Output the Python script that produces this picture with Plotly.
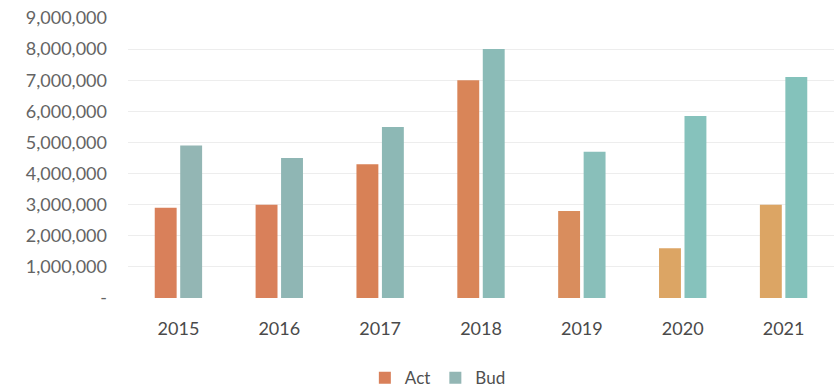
import plotly.graph_objects as go

years = ["2015", "2016", "2017", "2018", "2019", "2020", "2021"]
act = [2900000, 3000000, 4300000, 7000000, 2800000, 1600000, 3000000]
bud = [4900000, 4500000, 5500000, 8000000, 4700000, 5850000, 7100000]
y_ticks = [0, 1000000, 2000000, 3000000, 4000000, 5000000, 6000000, 7000000, 8000000, 9000000]
y_tick_text = ["-", "1,000,000", "2,000,000", "3,000,000", "4,000,000", "5,000,000",
               "6,000,000", "7,000,000", "8,000,000", "9,000,000"]

act_colors = ["#D9805A", "#D9805A", "#D88156", "#D98558", "#D98D5D", "#DCA564", "#DCA564"]
bud_colors = ["#93B6B4", "#8FB6B4", "#8DB8B5", "#8BBBB7", "#89BFBA", "#86C2BC", "#84C2BB"]

fig = go.Figure()
fig.add_trace(go.Bar(x=years, y=act, name="Act", marker=dict(color=act_colors, line=dict(width=0))))
fig.add_trace(go.Bar(x=years, y=bud, name="Bud", marker=dict(color=bud_colors, line=dict(width=0))))

fig.update_layout(
    width=834, height=391,
    margin=dict(l=128, r=0, t=18, b=93),
    paper_bgcolor="white", plot_bgcolor="white",
    barmode="group", bargap=0.495, bargroupgap=0.14,
    font=dict(family="Lato", color="#404040"),
    showlegend=True,
    legend=dict(orientation="h", xref="container", yref="container",
                x=0.525, y=0.033, xanchor="center", yanchor="middle",
                font=dict(size=17, color="#505050"), itemwidth=30,
                traceorder="normal", tracegroupgap=0),
)
fig.update_xaxes(showgrid=False, showline=False, zeroline=False,
                 tickfont=dict(size=18, color="#4A4A4A"), ticklabelstandoff=18)
fig.update_yaxes(range=[0, 9000000], tickvals=y_ticks, ticktext=y_tick_text,
                 showgrid=True, gridcolor="#EDEDED", gridwidth=1,
                 zeroline=False, showline=False,
                 tickfont=dict(size=18, color="#646464"), ticklabelstandoff=20)

fig.write_html("out.html")
